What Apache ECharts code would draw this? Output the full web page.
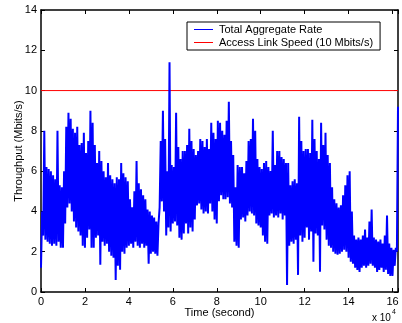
<!DOCTYPE html>
<html><head><meta charset="utf-8">
<script src="https://cdn.jsdelivr.net/npm/echarts@6/dist/echarts.min.js"></script>
<style>html,body{margin:0;padding:0;background:#fff}#c{width:402px;height:323px}</style>
</head><body><div id="c"></div>
<script>
// time axis (x 10^4 s): one sample pair every 0.1
const timeStart = 0, timeStep = 0.1;
// upper envelope of the aggregate rate (Mbits/s)
const rateHigh = [
4.0,8.0,6.2,6.1,6.0,5.8,5.6,8.0,5.3,5.2,
6.0,8.2,8.9,8.6,8.1,7.9,8.2,7.3,7.4,7.9,
6.9,7.5,9.0,8.4,7.3,6.4,7.0,6.5,6.0,5.7,
6.4,5.8,5.6,5.4,5.7,5.6,6.4,5.9,5.7,5.5,
4.6,4.2,5.0,6.5,5.4,5.1,4.8,4.6,4.1,4.0,
3.8,3.7,3.5,3.4,7.5,9.0,7.6,6.0,11.4,6.3,
6.2,8.9,7.2,6.6,7.0,7.0,7.3,8.1,7.5,7.1,
6.8,7.0,7.6,7.5,7.2,7.6,7.1,8.4,7.9,7.6,
8.5,8.4,8.0,7.8,8.5,9.45,7.5,6.8,5.2,6.3,
6.2,6.2,5.9,6.5,7.5,7.6,8.6,8.0,6.6,6.2,
6.1,6.4,6.5,6.2,6.0,8.0,6.3,7.0,7.0,6.7,
6.6,6.4,6.4,5.3,5.5,5.6,5.4,8.7,7.5,7.0,
7.1,7.1,6.9,8.55,7.6,7.0,6.6,8.4,7.3,7.9,
6.8,6.4,5.2,4.6,4.4,4.2,4.3,4.8,5.3,5.8,
6.0,4.0,2.8,2.6,2.7,2.6,2.8,3.1,2.7,3.5,
4.1,2.7,2.6,2.5,2.6,2.4,2.8,3.8,2.4,2.2,
2.1,2.2,9.2
];
// lower envelope of the aggregate rate (Mbits/s)
const rateLow = [
1.2,2.8,2.6,2.5,2.4,2.3,2.4,2.3,2.5,2.2,
2.2,3.4,4.2,4.4,4.0,3.5,3.2,3.0,2.8,2.3,
2.2,2.7,3.1,2.2,2.2,2.7,2.8,1.35,2.5,2.3,
2.4,2.0,1.8,1.7,0.6,1.3,1.1,2.0,1.9,2.2,
2.3,2.4,2.2,2.5,2.3,2.2,2.4,2.2,2.3,1.4,
1.9,2.0,1.9,1.8,4.2,4.5,4.0,2.8,3.2,3.0,
3.4,3.5,3.3,2.7,2.6,2.9,3.4,2.9,3.2,3.0,
3.6,4.3,4.4,4.1,3.9,4.0,3.9,4.4,4.0,3.6,
3.4,4.5,4.8,4.6,4.6,4.7,4.4,4.2,2.5,2.3,
2.2,3.6,3.7,3.5,3.8,4.0,3.9,3.8,3.4,3.3,
3.2,2.8,2.5,2.4,3.8,3.9,3.7,3.8,3.7,3.9,
3.6,3.8,0.35,2.3,2.5,2.4,2.6,0.85,2.8,2.5,
2.7,3.2,2.6,3.0,1.5,2.9,2.8,1.0,3.3,3.1,
2.6,2.3,2.2,2.0,1.9,1.85,1.9,2.0,2.1,2.0,
1.7,1.5,1.4,1.2,1.1,1.0,1.2,1.3,1.2,1.3,
1.4,1.3,1.2,1.0,1.1,1.2,1.0,1.1,0.9,0.8,
0.8,1.3,2.0
];
const linkSpeed = 10;
const xTicks = [0,2,4,6,8,10,12,14,16];
const yTicks = [0,2,4,6,8,10,12,14];
const seriesNames = ['Total Aggregate Rate', 'Access Link Speed (10 Mbits/s)'];

const xMax = 16.25;
const rateData = [];
for (let i = 0; i < rateHigh.length; i++) {
  const t = timeStart + i * timeStep;
  rateData.push([t, rateLow[i]]);
  rateData.push([t + timeStep / 2, rateHigh[i]]);
}
const linkData = [[0, linkSpeed], [xMax, linkSpeed]];

const FONT = 'Liberation Sans, Arial, Helvetica, sans-serif';
const axisCommon = {
  axisLine: { show: true, onZero: false, lineStyle: { color: '#000', width: 1.5 } },
  axisTick: { show: true, inside: true, length: 4, lineStyle: { color: '#000', width: 1 } },
  splitLine: { show: false }
};
const chart = echarts.init(document.getElementById('c'), null, { renderer: 'canvas' });
chart.setOption({
  animation: false,
  backgroundColor: '#fff',
  grid: { left: 41, right: 4, top: 10, bottom: 31, containLabel: false, outerBoundsMode: 'none' },
  legend: {
    data: seriesNames,
    orient: 'vertical',
    left: 187, top: 22,
    padding: [2, 7, 2, 7],
    itemGap: 2,
    itemWidth: 19, itemHeight: 1,
    icon: 'rect',
    borderColor: '#000', borderWidth: 1, borderRadius: 0,
    backgroundColor: '#fff',
    textStyle: { color: '#000', fontSize: 11, fontFamily: FONT, padding: [0, 0, 0, 1] }
  },
  xAxis: [
    Object.assign({
      type: 'value', min: 0, max: xMax, interval: 2, position: 'bottom',
      name: 'Time (second)', nameLocation: 'middle', nameGap: 15, nameMoveOverlap: false,
      nameTextStyle: { color: '#000', fontSize: 11, fontFamily: FONT },
      axisLabel: { color: '#000', fontSize: 11, fontFamily: FONT, margin: 4, showMaxLabel: true,
        formatter: v => xTicks.indexOf(v) >= 0 ? String(v) : '' }
    }, axisCommon),
    Object.assign({
      type: 'value', min: 0, max: xMax, interval: 2, position: 'top',
      axisLabel: { show: false }
    }, axisCommon)
  ],
  yAxis: [
    Object.assign({
      type: 'value', min: 0, max: 14, interval: 2, position: 'left',
      name: 'Throughput (Mbits/s)', nameLocation: 'middle', nameGap: 17, nameRotate: 90, nameMoveOverlap: false,
      nameTextStyle: { color: '#000', fontSize: 11, fontFamily: FONT },
      axisLabel: { color: '#000', fontSize: 11, fontFamily: FONT, margin: 4,
        formatter: v => yTicks.indexOf(v) >= 0 ? String(v) : '' }
    }, axisCommon),
    Object.assign({
      type: 'value', min: 0, max: 14, interval: 2, position: 'right',
      axisLabel: { show: false }
    }, axisCommon)
  ],
  graphic: [
    { type: 'text', left: 372, top: 313, style: { text: 'x 10', fill: '#000', fontSize: 10, fontFamily: FONT } },
    { type: 'text', left: 392, top: 309, style: { text: '4', fill: '#000', fontSize: 7, fontFamily: FONT } }
  ],
  series: [
    {
      name: seriesNames[0], type: 'line', data: rateData, xAxisIndex: 0, yAxisIndex: 0,
      symbol: 'none', showSymbol: false, z: 3,
      lineStyle: { color: '#0000ff', width: 2 }, itemStyle: { color: '#0000ff' }
    },
    {
      name: seriesNames[1], type: 'line', data: linkData, xAxisIndex: 0, yAxisIndex: 0,
      symbol: 'none', showSymbol: false, z: 2,
      lineStyle: { color: '#ff0000', width: 1 }, itemStyle: { color: '#ff0000' }
    }
  ]
});
</script></body></html>
